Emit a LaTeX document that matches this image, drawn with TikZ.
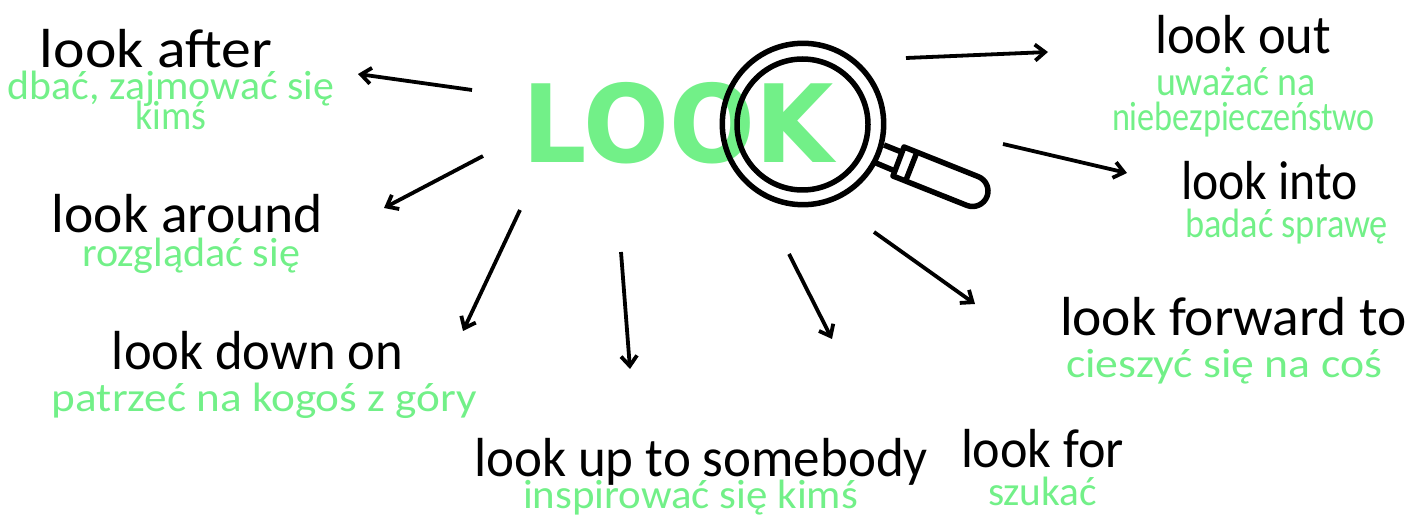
\documentclass[tikz,border=0pt]{standalone}
\usepackage{fontspec}
\usepackage{graphicx}
\setmainfont{Carlito}
\newfontfamily\lookfont{DejaVu Sans}[BoldFont={DejaVu Sans Bold}]
\usetikzlibrary{arrows.meta}
\definecolor{lookgreen}{HTML}{72F088}
\newcommand{\fitw}[2]{\resizebox{#1pt}{\height}{#2}}
\tikzset{
  x=1pt,y=-1pt,
  term/.style={anchor=base,inner sep=0pt,text=black,font=\fontsize{55}{60}\selectfont},
  gloss/.style={anchor=base,inner sep=0pt,text=lookgreen,font=\fontsize{41}{45}\selectfont},
  title/.style={anchor=base,inner sep=0pt,text=lookgreen,font=\lookfont\bfseries\fontsize{108}{120}\selectfont},
  link/.style={draw=black,line width=3.8pt,-{Straight Barb[length=10pt,width=16pt,line width=3.8pt]}},
  glass/.style={draw=black,line width=5.5pt,fill=none,line join=round}
}
\begin{document}
\begin{tikzpicture}
\useasboundingbox (0,0) rectangle (1425,521);
\node[title] (look) at (678,162.5) {\fitw{311}{LOOK}};
% magnifier
\draw[glass] (803,124) circle[radius=80.7];
\draw[glass] (802.5,124.5) circle[radius=65.5];
\draw[glass] (884,145) -- (904,153);
\draw[glass] (876,163) -- (895,171);
\draw[glass] (904,147) -- (978.2,176.6) .. controls (986.2,179.8) and (990.07,188.74) .. (986.9,196.7)
   .. controls (983.7,204.66) and (974.76,208.57) .. (966.8,205.4) -- (893,176) -- cycle;
\draw[glass] (917,152) -- (906,180);
% terms
\node[term] (t1) at (156,68) {\fitw{232}{look after}};
\node[gloss] (g1a) at (171,100) {\fitw{326}{dbać, zajmować się}};
\node[gloss] (g1b) at (171,130) {\fitw{71}{kimś}};
\node[term] (t2) at (187.5,233) {\fitw{271}{look around}};
\node[gloss] (g2) at (191,267) {\fitw{218}{rozglądać się}};
\node[term] (t3) at (257.5,370) {\fitw{291}{look down on}};
\node[gloss] (g3) at (264.5,411) {\fitw{425}{patrzeć na kogoś z góry}};
\node[term] (t4) at (701,476) {\fitw{454}{look up to somebody}};
\node[gloss] (g4) at (690.5,508) {\fitw{335}{inspirować się kimś}};
\node[term] (t5) at (1042.5,467) {\fitw{163}{look for}};
\node[gloss] (g5) at (1042.5,505) {\fitw{109}{szukać}};
\node[term] (t6) at (1233.5,336) {\fitw{347}{look forward to}};
\node[gloss] (g6) at (1224,378) {\fitw{316}{cieszyć się na coś}};
\node[term] (t7) at (1269.5,200) {\fitw{177}{look into}};
\node[gloss] (g7) at (1286.5,238) {\fitw{203}{badać sprawę}};
\node[term] (t8) at (1243,54) {\fitw{176}{look out}};
\node[gloss] (g8a) at (1236,96) {\fitw{160}{uważać na}};
\node[gloss] (g8b) at (1243.5,131) {\fitw{263}{niebezpieczeństwo}};
% connector ends
\coordinate (a1s) at (472,90);    \coordinate (a1e) at (358,74);
\coordinate (a2s) at (483,156);   \coordinate (a2e) at (384,208);
\coordinate (a3s) at (520,210);   \coordinate (a3e) at (463,331);
\coordinate (a4s) at (621,252);   \coordinate (a4e) at (630,369);
\coordinate (a5s) at (789,254);   \coordinate (a5e) at (832,339);
\coordinate (a6s) at (874,232);   \coordinate (a6e) at (975,304);
\coordinate (a7s) at (906,58);    \coordinate (a7e) at (1048,52);
\coordinate (a8s) at (1003,144);  \coordinate (a8e) at (1127,173);
\draw[link] (a1s) -- (a1e);
\draw[link] (a2s) -- (a2e);
\draw[link] (a3s) -- (a3e);
\draw[link] (a4s) -- (a4e);
\draw[link] (a5s) -- (a5e);
\draw[link] (a6s) -- (a6e);
\draw[link] (a7s) -- (a7e);
\draw[link] (a8s) -- (a8e);
\end{tikzpicture}
\end{document}
